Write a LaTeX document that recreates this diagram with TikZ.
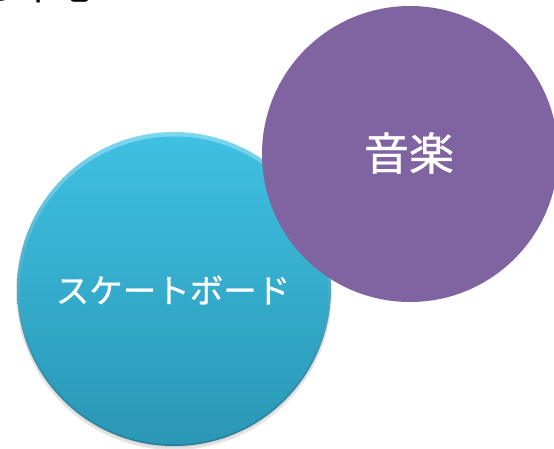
\documentclass[tikz,border=0pt]{standalone}
\usepackage{fontspec}
\newfontfamily\jp{Noto Sans CJK JP}
\newfontfamily\jpb[FakeBold=0.7]{Noto Sans CJK JP}
\definecolor{bluetop}{HTML}{3FC0E2}
\definecolor{bluebot}{HTML}{2A97B5}
\definecolor{rimtop}{HTML}{7CD8F1}
\definecolor{rimbot}{HTML}{1F7C99}
\definecolor{purp}{HTML}{8064A2}
\tikzset{
  circtext/.style={text=white},
}
\begin{document}
\begin{tikzpicture}[x=1pt,y=-1pt]
\useasboundingbox (0,0) rectangle (554,449);
\clip (0,0) rectangle (554,449);
% cut-off title
\node[anchor=base west, inner sep=0pt, font=\jpb\fontsize{40}{40}\selectfont] (title) at (-22,-1) {る中心};
% shadow of blue circle
\fill[black, opacity=0.10] (174,292) circle[radius=158pt];
\fill[black, opacity=0.08] (174,291) circle[radius=156.5pt];
% blue circle with bevel
\shade[top color=rimtop, bottom color=rimbot] (174,289) circle[radius=157pt];
\shade[top color=bluetop, bottom color=bluebot] (174,290.5) circle[radius=154pt];
\node[circtext, font=\jpb\fontsize{33.5}{33.5}\selectfont] (skate) at (173,290) {スケートボード};
% purple circle
\fill[purp] (410,154) circle[radius=148pt];
\node[circtext, font=\jpb\fontsize{45}{45}\selectfont] (music) at (409,153) {音楽};
\end{tikzpicture}
\end{document}
